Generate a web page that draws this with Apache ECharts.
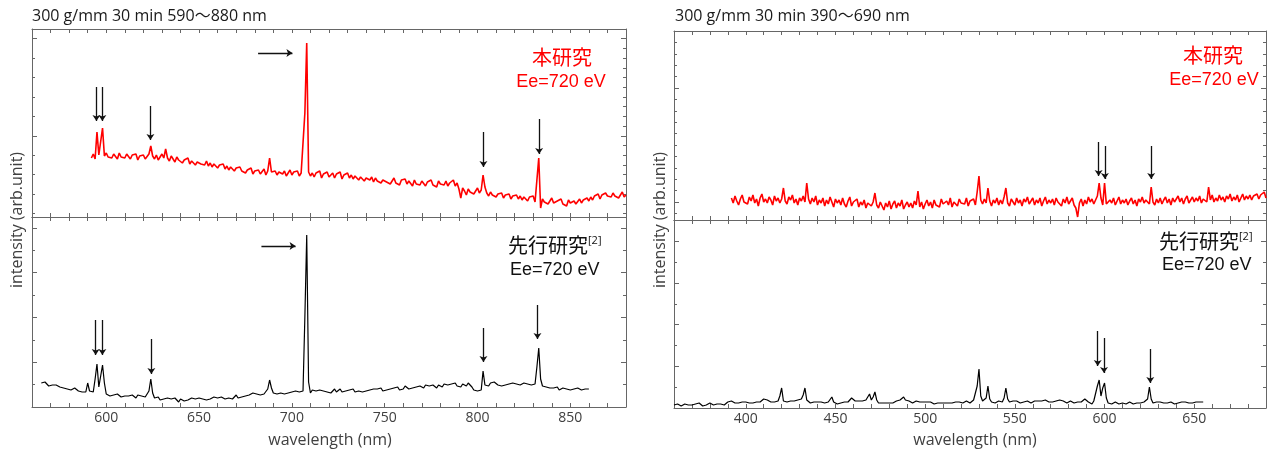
<!DOCTYPE html>
<html><head><meta charset="utf-8">
<script src="https://cdn.jsdelivr.net/npm/echarts@6/dist/echarts.min.js"></script>
<style>html,body{margin:0;padding:0;background:#fff}#c{width:1276px;height:454px}</style>
</head><body><div id="c"></div>
<script>
// ---------- data (wavelength in nm, intensity in arbitrary units) ----------
// Left panel, upper trace (本研究, red): 592..880 nm, 1 nm step
const tlStart = 592;
const tlValues = [
75,79,74,101,78,76,105,77,80,76,
78,75,79,77,74,80,76,78,75,79,
77,74,78,76,79,73,77,75,78,74,
76,79,87,77,74,78,73,76,79,75,
84,75,72,77,74,71,76,73,75,70,
73,71,75,69,72,74,68,71,73,69,
71,68,72,67,70,66,69,71,65,68,
66,69,64,67,63,66,68,62,65,64,
66,62,64,60,63,61,65,59,62,60,
63,59,61,64,58,62,75,61,59,62,
58,61,63,59,62,57,60,63,58,61,
59,62,57,60,58,120,190,61,57,60,
56,60,58,62,55,59,57,61,56,58,
60,55,59,57,61,54,58,56,60,55,
58,54,57,59,53,56,58,52,55,57,
53,56,51,55,52,54,50,53,55,51,
53,49,52,55,50,52,48,53,51,54,
49,52,50,47,53,49,51,48,52,50,
47,51,49,53,48,50,46,52,49,51,
48,52,47,50,49,53,47,50,44,35,
45,42,38,44,41,43,39,42,45,40,
43,58,46,40,37,41,38,40,36,39,
37,40,35,38,36,39,34,37,35,38,
34,37,33,36,35,32,36,34,37,31,
33,75,25,34,31,33,29,32,35,30,
28,32,30,34,29,31,27,33,30,28,
32,29,31,34,30,33,31,35,32,36,
33,37,35,39,34,38,36,40,37,39,
36,40,37,39,35,38,41,36,38
];
// Left panel, lower trace (先行研究, black): 565..860 nm
const blStart = 565;
const blValues = [
24,22,25,23,21,23,22,20,22,21,
20,21,19,20,18,19,17,18,19,17,
16,17,15,16,15,24,16,14,15,28,
43,20,22,42,24,13,12,11,13,12,
11,13,12,10,12,11,13,11,10,12,
11,9,12,10,11,9,10,11,16,28,
14,9,8,10,7,9,8,6,9,7,
8,6,9,7,5,8,7,6,8,7,
6,9,7,8,6,9,7,8,10,7,
9,8,7,10,8,9,7,10,9,8,
10,9,11,8,10,12,9,11,10,12,
11,13,12,11,14,12,13,15,12,14,
13,15,18,27,19,14,16,13,15,14,
16,13,15,14,16,15,13,16,14,15,
13,16,90,172,25,14,17,15,16,14,
17,15,16,18,15,17,14,16,18,15,
16,18,15,17,16,14,17,16,18,15,
17,16,18,15,17,16,18,17,15,18,
16,18,17,19,16,18,17,19,18,16,
19,18,20,17,19,18,21,19,18,20,
19,21,20,18,21,20,19,22,20,21,
20,22,21,19,22,21,20,23,21,22,
21,23,22,24,21,22,20,23,22,21,
24,22,20,17,18,16,18,17,36,22,
23,21,24,22,25,23,22,24,21,23,
22,24,23,21,24,22,23,25,22,23,
24,22,23,25,22,24,23,40,59,28,
21,19,20,18,19,17,19,18,20,17,
18,19,17,18,20,17,19,18,17,19,
18,17,19,18,17,18
];
// Right panel, upper trace (本研究, red): 392..690 nm
const trStart = 392;
const trValues = [
118,113,120,115,111,117,121,114,116,112,
119,115,121,113,117,110,118,122,114,117,
113,119,116,111,120,115,118,113,117,128,
115,112,119,116,121,113,117,111,118,115,
120,114,133,117,112,118,114,120,111,116,
113,118,110,116,112,119,114,109,117,113,
116,111,118,112,109,115,119,110,114,112,
117,109,114,111,116,108,113,115,110,114,
123,111,108,114,110,106,113,109,115,107,
112,115,108,113,110,116,107,111,114,109,
113,108,115,111,125,109,114,107,112,116,
110,114,108,116,111,113,109,117,112,110,
115,111,118,109,114,116,110,117,113,115,
112,118,110,115,113,117,111,124,140,116,
112,117,113,128,115,110,116,113,118,111,
116,112,119,128,113,110,117,114,111,118,
113,116,110,117,114,119,112,115,118,111,
116,113,118,110,115,119,112,116,113,117,
111,118,114,116,110,117,113,119,112,115,
118,111,108,99,113,117,110,116,112,119,
114,117,112,116,120,133,118,111,133,112,
110,116,113,118,111,115,119,112,116,113,
117,111,115,118,112,116,110,117,114,119,
113,116,118,112,129,114,111,117,113,118,
112,116,119,113,117,111,118,114,116,120,
114,118,112,117,120,113,116,119,114,118,
115,120,113,117,119,114,129,116,121,114,
118,115,121,116,119,114,120,117,122,115,
119,116,121,114,118,122,116,120,117,121,
116,120,118,122,117,121,119,124,118
];
// Right panel, lower trace (先行研究, black): 360..655 nm
const brStart = 360;
const brValues = [
3,2,4,3,2,3,4,2,3,4,
3,2,4,3,5,3,2,4,3,4,
5,4,3,5,4,6,4,5,3,5,
6,8,7,6,5,6,5,4,6,5,
6,4,5,6,5,7,6,5,6,8,
9,7,8,9,6,5,6,5,7,12,
20,7,5,6,5,7,6,7,6,8,
7,9,13,20,8,6,5,7,6,5,
6,5,6,4,5,7,6,8,11,6,
5,4,6,5,4,6,5,6,7,10,
12,7,6,7,6,7,6,8,10,14,
8,11,16,8,5,4,5,4,5,4,
5,6,5,4,7,6,8,9,11,8,
6,7,6,5,6,7,5,6,5,6,
5,6,5,6,5,4,6,5,6,5,
6,5,6,5,6,5,7,6,5,6,
6,5,6,7,6,5,7,8,6,22,
39,12,7,6,10,22,9,6,7,5,
6,7,5,6,10,20,9,6,5,7,
6,7,6,5,7,6,8,7,6,5,
6,7,8,7,6,7,6,8,7,6,
7,6,5,7,6,8,9,7,6,5,
6,7,6,5,7,6,7,6,8,9,
8,6,5,4,7,6,22,28,12,20,
25,10,5,6,4,5,6,5,4,6,
5,6,4,5,6,5,4,6,5,6,
5,4,6,5,9,21,9,5,4,6,
5,6,4,5,6,5,4,6,5,4,
6,5,4,6,5,6,4,5,6,5,
4,6,5,6,5,6
];
// Arrows [x1, y1, x2, y2] in data units (tail -> head)
const arrowsTL = [[594.7,146,594.7,112],[597.9,146,597.9,112],[623.8,127,623.8,93],[681.8,180,700.3,180],[803.2,101,803.2,66],[833.2,114,833.2,79]];
const arrowsBL = [[594.3,87,594.3,52],[597.9,87,597.9,52],[624.3,68,624.3,33],[683.6,161,702,161],[803.2,79,803.2,45],[832.3,102,832.3,68]];
const arrowsTR = [[596.7,174,596.7,140],[600.2,170,600.2,137],[626,170,626,137]];
const arrowsBR = [[596.2,77,596.2,42],[599.7,70,599.7,35],[625.5,59,625.5,25]];
// axis ranges / tick labels
const xRangeLeft = [560, 880];
const xRangeRight = [360, 690];
const xLabelStep = 50;
const titles = ['300 g/mm 30 min 590〜880 nm', '300 g/mm 30 min 390〜690 nm'];
const labelOurs = ['本研究', 'Ee=720 eV'];
const labelPrev = ['先行研究', '[2]', 'Ee=720 eV'];
const xName = 'wavelength (nm)';
const yName = 'intensity (arb.unit)';

// ---------- chart ----------
const FRAME = '#666';
const FONT = "'Open Sans','Noto Sans CJK JP',sans-serif";
const CJK = "'Noto Sans CJK JP',sans-serif";
const LAT = "'Liberation Sans','Noto Sans CJK JP',sans-serif";

const toXY = (start, vals) => vals.map((v, i) => [start + i, v]);
const mkArrows = arr => arr.map(a => [{coord: [a[0], a[1]]}, {coord: [a[2], a[3]]}]);

const grids = [
  {left: 32, top: 29, width: 594, height: 188},
  {left: 32, top: 217, width: 594, height: 190},
  {left: 674, top: 31, width: 592, height: 189},
  {left: 674, top: 220, width: 592, height: 188}
];
// y ranges & tick structure per grid
const yCfg = [
  {min: 16, max: 204, major: 97.2, splitL: 5, splitR: 10},
  {min: 0, max: 190, major: 44.8, splitL: 2, splitR: 2},
  {min: 96, max: 285, major: 114, splitL: 10, splitR: 10},
  {min: 0, max: 188, major: 41.7, splitL: 2, splitR: 2}
];
const xr = [xRangeLeft, xRangeLeft, xRangeRight, xRangeRight];
const showXLabel = [false, true, false, true];

const xAxes = [], yAxes = [];
grids.forEach((g, i) => {
  ['bottom', 'top'].forEach(pos => {
    xAxes.push({
      type: 'value', gridIndex: i, position: pos, min: xr[i][0], max: xr[i][1], interval: 10,
      axisLine: {show: true, onZero: false, lineStyle: {color: FRAME, width: 1}},
      axisTick: {show: true, inside: true, length: 4, lineStyle: {color: FRAME}},
      axisLabel: {show: pos === 'bottom' && showXLabel[i], color: '#404040', fontSize: 14, fontFamily: FONT, margin: 4,
        formatter: v => (Math.round(v) % xLabelStep === 0 ? String(Math.round(v)) : '')},
      splitLine: {show: false}
    });
  });
  ['left', 'right'].forEach(pos => {
    const c = yCfg[i];
    yAxes.push({
      type: 'value', gridIndex: i, position: pos, min: c.min, max: c.max,
      minInterval: c.major, maxInterval: c.major,
      axisLine: {show: true, onZero: false, lineStyle: {color: FRAME, width: 1}},
      axisTick: {show: true, inside: true, length: 5, lineStyle: {color: FRAME}},
      minorTick: {show: true, splitNumber: pos === 'left' ? c.splitL : c.splitR, length: 3, lineStyle: {color: FRAME}},
      axisLabel: {show: false},
      splitLine: {show: false}
    });
  });
});

const traces = [
  {data: toXY(tlStart, tlValues), color: '#ff0000', width: 1.6, arrows: arrowsTL},
  {data: toXY(blStart, blValues), color: '#000000', width: 1.2, arrows: arrowsBL},
  {data: toXY(trStart, trValues), color: '#ff0000', width: 1.6, arrows: arrowsTR},
  {data: toXY(brStart, brValues), color: '#000000', width: 1.2, arrows: arrowsBR}
];
const series = traces.map((t, i) => ({
  type: 'line', xAxisIndex: 2 * i, yAxisIndex: 2 * i, data: t.data,
  showSymbol: false, symbol: 'none', animation: false, silent: true,
  lineStyle: {color: t.color, width: t.width}, itemStyle: {color: t.color},
  markLine: {
    silent: true, animation: false, symbol: ['none', 'arrow'], symbolSize: 6,
    label: {show: false}, emphasis: {disabled: true},
    lineStyle: {color: '#111', width: 1.3, type: 'solid'},
    data: mkArrows(t.arrows)
  }
}));

const txt = (x, y, text, opts) => ({
  type: 'text', x: x, y: y, silent: true, rotation: opts.rotation || 0,
  style: Object.assign({text: text, textAlign: opts.align || 'center', textVerticalAlign: 'middle',
    fill: opts.fill || '#222', fontSize: opts.size || 16, fontFamily: opts.family || FONT}, opts.extra || {})
});
const prevRich = {
  a: {fontSize: 20, fontFamily: CJK, fill: '#111', verticalAlign: 'bottom'},
  b: {fontSize: 11, fontFamily: FONT, fill: '#111', verticalAlign: 'top'}
};
const graphic = [
  txt(32, 16, titles[0], {align: 'left', size: 16, fill: '#1a1a1a'}),
  txt(675, 16, titles[1], {align: 'left', size: 16, fill: '#1a1a1a'}),
  txt(17, 220, yName, {size: 16, fill: '#404040', rotation: Math.PI / 2}),
  txt(660, 220, yName, {size: 16, fill: '#404040', rotation: Math.PI / 2}),
  txt(330, 440, xName, {size: 16, fill: '#404040'}),
  txt(975, 440, xName, {size: 16, fill: '#404040'}),
  txt(562, 57, labelOurs[0], {size: 20, fill: '#ff0000', family: CJK}),
  txt(561, 82, labelOurs[1], {size: 18, fill: '#ff0000', family: LAT}),
  txt(1213, 55, labelOurs[0], {size: 20, fill: '#ff0000', family: CJK}),
  txt(1214, 80, labelOurs[1], {size: 18, fill: '#ff0000', family: LAT}),
  txt(508, 245, '{a|' + labelPrev[0] + '}{b|' + labelPrev[1] + '}', {align: 'left', extra: {rich: prevRich}}),
  txt(510, 270, labelPrev[2], {align: 'left', size: 18, fill: '#111', family: LAT}),
  txt(1159, 241, '{a|' + labelPrev[0] + '}{b|' + labelPrev[1] + '}', {align: 'left', extra: {rich: prevRich}}),
  txt(1162, 265, labelPrev[2], {align: 'left', size: 18, fill: '#111', family: LAT})
];

const chart = echarts.init(document.getElementById('c'), null, {renderer: 'canvas'});
chart.setOption({
  animation: false,
  backgroundColor: '#fff',
  grid: grids,
  xAxis: xAxes,
  yAxis: yAxes,
  series: series,
  graphic: graphic
});
</script>
</body></html>
